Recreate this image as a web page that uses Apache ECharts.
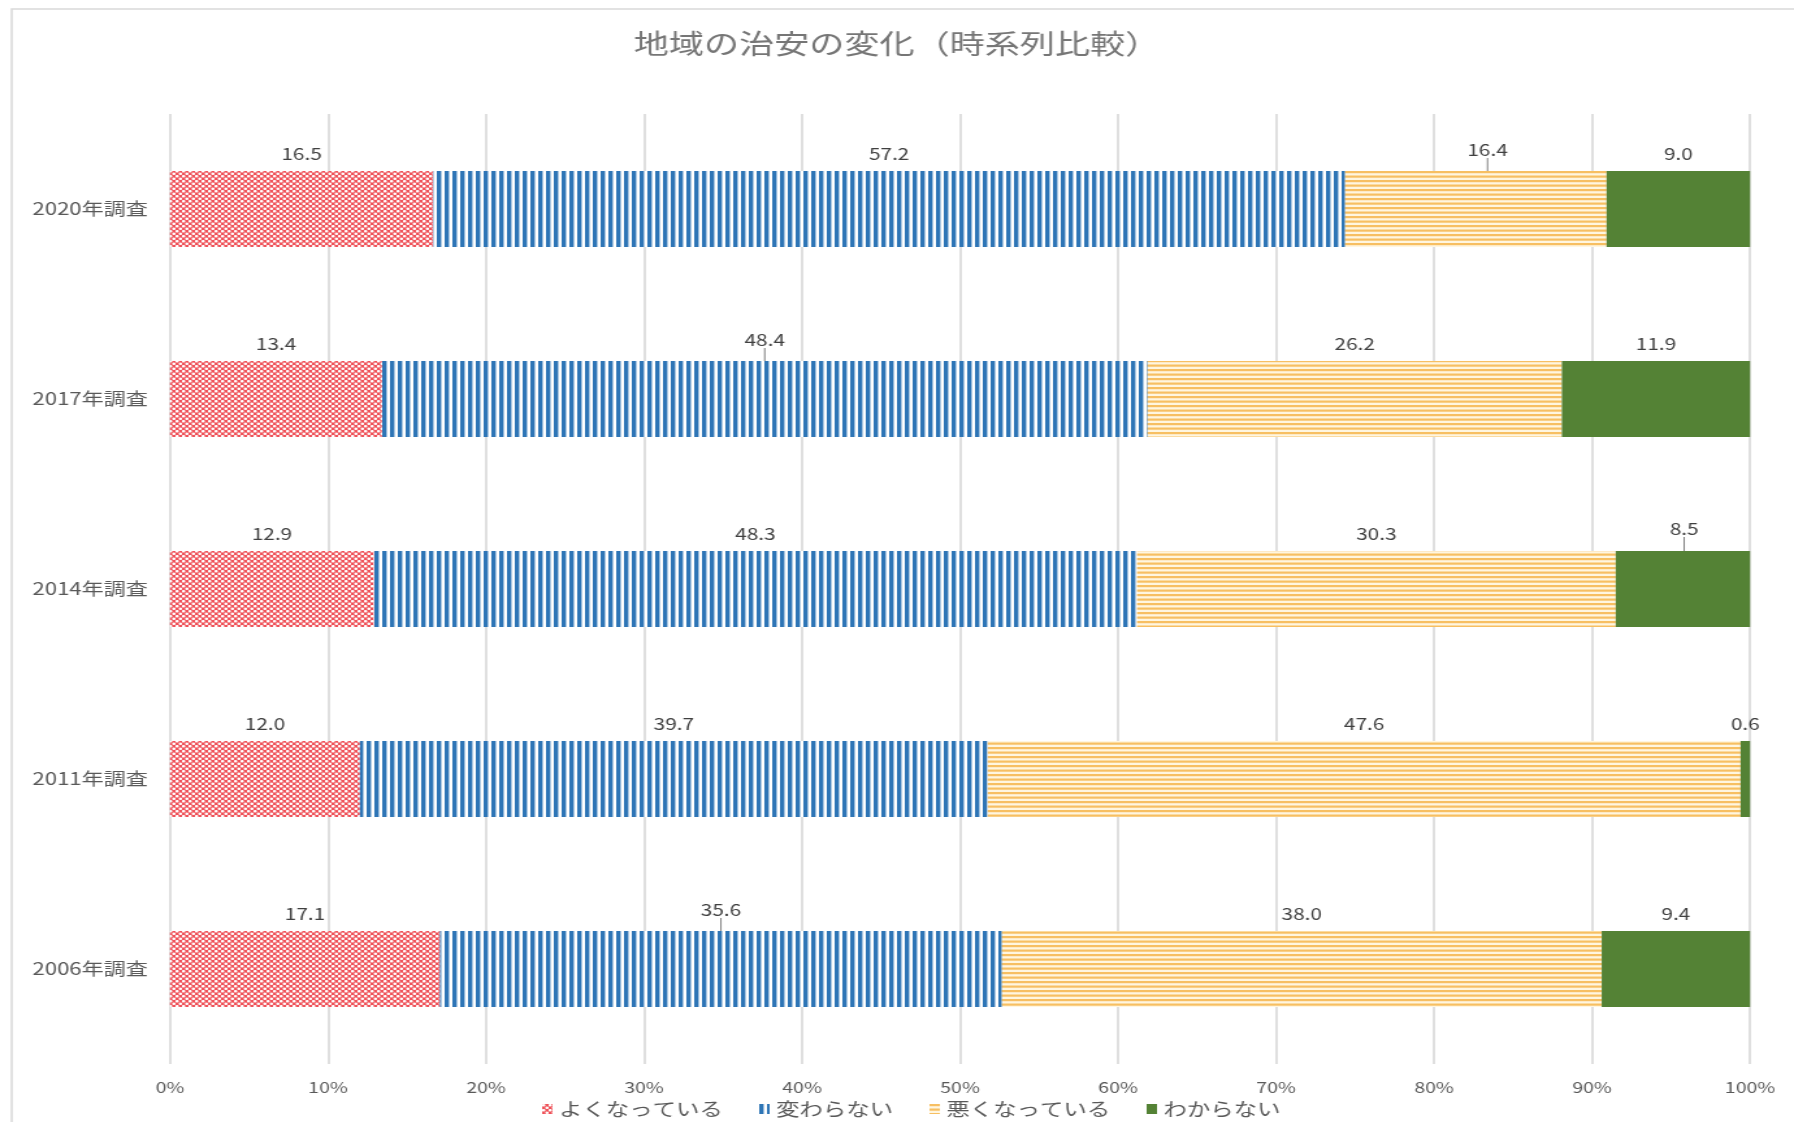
<!DOCTYPE html>
<html>
<head>
<meta charset="utf-8">
<script src="https://cdn.jsdelivr.net/npm/echarts@6/dist/echarts.min.js"></script>
<style>
html,body{margin:0;padding:0;background:#ffffff;overflow:hidden}
#wrap{width:1794px;height:1122px;overflow:hidden;position:relative;background:#fff}
#chart{width:1380px;height:1122px;transform:scaleX(1.3);transform-origin:0 0}
</style>
</head>
<body>
<div id="wrap"><div id="chart"></div></div>
<script>
// ---- data ----
const categories = ['2020年調査', '2017年調査', '2014年調査', '2011年調査', '2006年調査'];
const seriesNames = ['よくなっている', '変わらない', '悪くなっている', 'わからない'];
const better  = [16.5, 13.4, 12.9, 12.0, 17.1];
const same    = [57.2, 48.4, 48.3, 39.7, 35.6];
const worse   = [16.4, 26.2, 30.3, 47.6, 38.0];
const unknown = [9.0, 11.9, 8.5, 0.6, 9.4];
const tickLabels = ['0%', '10%', '20%', '30%', '40%', '50%', '60%', '70%', '80%', '90%', '100%'];
const titleText = '地域の治安の変化（時系列比較）';

// ---- style helpers ----
function makePattern(w, h, draw) {
  const c = document.createElement('canvas');
  c.width = w; c.height = h;
  draw(c.getContext('2d'), w, h);
  return { image: c, repeat: 'repeat' };
}
const redPattern = makePattern(5, 5, (g, w, h) => {
  g.fillStyle = '#EF5259'; g.fillRect(0, 0, w, h);
  g.fillStyle = '#FFFFFF';
  g.beginPath(); g.arc(1.25, 1.25, 1.3, 0, Math.PI * 2); g.fill();
  g.beginPath(); g.arc(3.75, 3.75, 1.3, 0, Math.PI * 2); g.fill();
});
const bluePattern = makePattern(6, 6, (g, w, h) => {
  g.fillStyle = '#FFFFFF'; g.fillRect(0, 0, w, h);
  g.fillStyle = '#2E75B6'; g.fillRect(0, 0, 3.4, h);
});
const yellowPattern = makePattern(6, 9, (g, w, h) => {
  g.fillStyle = '#FFF6E0'; g.fillRect(0, 0, w, h);
  g.fillStyle = '#F7BF62';
  g.fillRect(0, 0, w, 2.2);
  g.fillRect(0, 4.5, w, 2.2);
});
const seriesFills = [redPattern, bluePattern, yellowPattern, '#548235'];

// labels that were dragged off-centre in the original (series-index, data-index)
const movedLabels = { '2-0': { dx: 9, dy: -4 }, '1-1': { dx: 0, dy: -4 }, '3-2': { dx: 1, dy: -5 }, '1-4': { dx: 0, dy: -4 } };

const raw = [better, same, worse, unknown];
const totals = categories.map((_, i) => raw.reduce((s, arr) => s + arr[i], 0));

const FONT = "'Noto Sans CJK JP', 'Noto Sans', sans-serif";

const series = raw.map((arr, si) => ({
  name: seriesNames[si],
  type: 'bar',
  stack: 'total',
  barWidth: 76,
  itemStyle: { color: seriesFills[si] },
  label: {
    show: true,
    position: 'top',
    distance: 9,
    color: '#404040',
    fontSize: 16,
    fontFamily: FONT,
    formatter: p => p.data.raw.toFixed(1)
  },
  labelLine: { show: false, lineStyle: { color: '#7F7F7F', width: 1 } },
  labelLayout: p => {
    const m = movedLabels[si + '-' + p.dataIndex];
    return m ? { dx: m.dx, dy: m.dy } : {};
  },
  data: arr.map((v, i) => {
    const moved = !!movedLabels[si + '-' + i];
    return {
      value: v / totals[i] * 100,
      raw: v,
      labelLine: { show: moved, lineStyle: { color: '#7F7F7F', width: 1 } }
    };
  })
}));

const chart = echarts.init(document.getElementById('chart'));
chart.setOption({
  backgroundColor: '#ffffff',
  animation: false,
  textStyle: { fontFamily: FONT },
  title: {
    text: titleText,
    left: 'center',
    top: 30,
    padding: 0,
    textStyle: { color: '#767676', fontSize: 27, fontWeight: 'normal', fontFamily: FONT }
  },
  legend: {
    data: seriesNames,
    top: 1095,
    left: 412,
    itemWidth: 8,
    itemHeight: 10,
    itemGap: 28,
    icon: 'rect',
    textStyle: { color: '#595959', fontSize: 18, fontFamily: FONT }
  },
  grid: { left: 130.8, right: 33.8, top: 114, bottom: 58, containLabel: false },
  xAxis: {
    type: 'value',
    min: 0,
    max: 100,
    interval: 10,
    axisLine: { show: false },
    axisTick: { show: false },
    splitLine: { show: true, lineStyle: { color: '#D4D4D4', width: 1.5 } },
    axisLabel: {
      color: '#595959',
      fontSize: 15,
      margin: 16,
      fontFamily: FONT,
      formatter: v => tickLabels[Math.round(v / 10)]
    }
  },
  yAxis: {
    type: 'category',
    data: categories,
    inverse: true,
    axisLine: { show: false },
    axisTick: { show: false },
    splitLine: { show: false },
    axisLabel: { color: '#595959', fontSize: 17, margin: 17, fontFamily: FONT }
  },
  graphic: [{
    type: 'rect',
    silent: true,
    shape: { x: 9, y: 9, width: 1500, height: 1300 },
    style: { fill: 'none', stroke: '#D9D9D9', lineWidth: 1.5 },
    z: -1
  }],
  series: series
});
</script>
</body>
</html>
